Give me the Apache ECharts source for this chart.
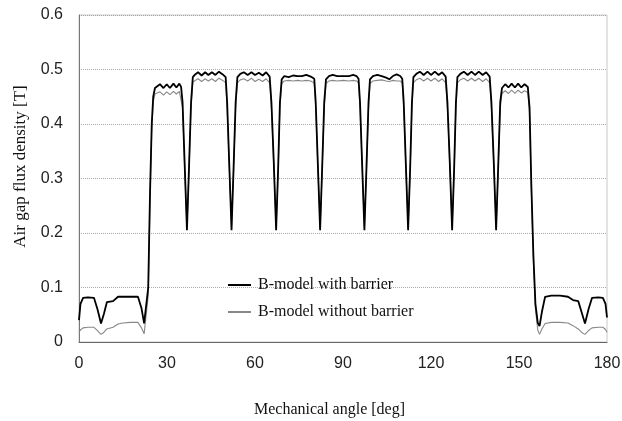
<!DOCTYPE html>
<html><head><meta charset="utf-8">
<script src="https://cdn.jsdelivr.net/npm/echarts@6/dist/echarts.min.js"></script>
<style>html,body{margin:0;padding:0;background:#fff}#c{width:622px;height:421px}</style>
</head><body><div id="c"></div>
<script>
// Mechanical angle [deg], flux density [T]
const withBarrier = [
  [0,0.040],[0.5,0.070],[1.4,0.081],[3.0,0.082],[5.1,0.081],[6.3,0.060],[7.5,0.034],[8.5,0.052],[9.5,0.073],[11.6,0.075],[13.3,0.083],[15.0,0.083],[17.5,0.083],[20.1,0.083],[21.3,0.062],[22.2,0.034],[22.7,0.031],
  [23.6,0.100],[24.2,0.270],[24.8,0.400],[25.3,0.450],
  [25.9,0.466],[27.6,0.473],[28.8,0.466],[29.9,0.473],[31.0,0.466],[32.2,0.474],[33.2,0.467],[34.2,0.474],[34.8,0.468],
  [35.3,0.440],[36.0,0.330],[36.8,0.205],[37.5,0.320],[38.2,0.440],
  [38.8,0.486],[39.6,0.491],[40.6,0.495],[41.8,0.489],[43.0,0.495],[44.1,0.490],[45.3,0.495],[46.5,0.490],[47.7,0.496],[49.0,0.491],[50.0,0.486],
  [50.5,0.440],[51.2,0.330],[52.0,0.205],[52.7,0.320],[53.4,0.440],
  [54.0,0.486],[55.0,0.492],[56.2,0.495],[57.5,0.490],[58.8,0.495],[60.0,0.490],[61.3,0.494],[62.6,0.489],[63.8,0.495],[65.0,0.487],
  [65.6,0.440],[66.4,0.330],[67.2,0.205],[67.9,0.320],[68.5,0.440],
  [69.1,0.482],[70.0,0.488],[71.5,0.486],[73.0,0.489],[74.5,0.488],[76.0,0.488],[77.5,0.490],[79.0,0.487],[80.2,0.483],
  [80.7,0.440],[81.4,0.330],[82.2,0.205],[82.9,0.320],[83.6,0.440],
  [84.2,0.482],[85.2,0.488],[86.5,0.490],[88.0,0.488],[90.0,0.488],[92.0,0.488],[93.5,0.490],[94.6,0.488],[95.3,0.483],
  [95.8,0.440],[96.5,0.330],[97.3,0.205],[98.0,0.320],[98.7,0.440],
  [99.2,0.482],[100.2,0.488],[101.7,0.490],[103.2,0.488],[104.7,0.485],[105.8,0.482],[107.0,0.488],[108.3,0.491],[109.5,0.488],[110.2,0.483],
  [110.7,0.440],[111.4,0.330],[112.2,0.205],[112.9,0.320],[113.5,0.440],
  [114.0,0.486],[115.0,0.492],[116.2,0.496],[117.5,0.490],[118.8,0.496],[120.0,0.490],[121.3,0.496],[122.6,0.490],[123.8,0.495],[125.0,0.487],
  [125.6,0.440],[126.4,0.330],[127.2,0.205],[127.9,0.320],[128.5,0.440],
  [129.0,0.486],[130.0,0.492],[131.2,0.496],[132.5,0.490],[133.8,0.496],[135.0,0.490],[136.3,0.496],[137.6,0.490],[138.8,0.495],[140.0,0.487],
  [140.6,0.440],[141.4,0.330],[142.2,0.205],[142.9,0.320],[143.6,0.440],
  [144.2,0.466],[145.3,0.473],[146.4,0.467],[147.5,0.474],[148.6,0.467],[149.7,0.474],[150.8,0.467],[151.9,0.473],[153.0,0.468],
  [153.6,0.430],[154.2,0.290],[154.9,0.160],[155.6,0.070],[156.4,0.035],[157.0,0.029],[157.8,0.055],[158.9,0.083],
  [161.0,0.085],[164.0,0.085],[166.7,0.083],[168.4,0.077],[170.2,0.075],[171.5,0.052],[172.5,0.034],[173.7,0.060],[174.9,0.081],[177.0,0.082],[178.6,0.081],[179.5,0.070],[180.0,0.045]
];
const withoutBarrier = [
  [0,0.018],[0.5,0.022],[1.4,0.026],[3.0,0.027],[5.1,0.027],[6.3,0.021],[7.5,0.014],[8.5,0.018],[9.5,0.024],[11.6,0.027],[13.3,0.033],[15.0,0.035],[17.5,0.036],[20.1,0.036],[21.3,0.026],[22.2,0.015],[22.7,0.013],
  [23.6,0.085],[24.2,0.260],[24.8,0.390],[25.3,0.440],
  [25.9,0.455],[27.6,0.459],[28.8,0.453],[29.9,0.459],[31.0,0.454],[32.2,0.460],[33.2,0.455],[34.2,0.460],[34.8,0.457],
  [35.3,0.430],[36.0,0.325],[36.8,0.210],[37.5,0.315],[38.2,0.430],
  [38.8,0.476],[39.6,0.480],[40.6,0.483],[41.8,0.478],[43.0,0.483],[44.1,0.479],[45.3,0.483],[46.5,0.478],[47.7,0.484],[49.0,0.480],[50.0,0.476],
  [50.5,0.430],[51.2,0.325],[52.0,0.210],[52.7,0.315],[53.4,0.430],
  [54.0,0.476],[55.0,0.481],[56.2,0.483],[57.5,0.479],[58.8,0.484],[60.0,0.478],[61.3,0.482],[62.6,0.478],[63.8,0.483],[65.0,0.476],
  [65.6,0.430],[66.4,0.325],[67.2,0.210],[67.9,0.315],[68.5,0.430],
  [69.1,0.474],[70.0,0.479],[71.5,0.480],[73.0,0.479],[74.5,0.480],[76.0,0.479],[77.5,0.480],[79.0,0.479],[80.2,0.475],
  [80.7,0.430],[81.4,0.325],[82.2,0.210],[82.9,0.315],[83.6,0.430],
  [84.2,0.474],[85.2,0.479],[86.5,0.480],[88.0,0.479],[90.0,0.480],[92.0,0.479],[93.5,0.480],[94.6,0.479],[95.3,0.475],
  [95.8,0.430],[96.5,0.325],[97.3,0.210],[98.0,0.315],[98.7,0.430],
  [99.2,0.474],[100.2,0.479],[101.7,0.480],[103.2,0.481],[104.7,0.479],[105.8,0.478],[107.0,0.480],[108.3,0.479],[109.5,0.479],[110.2,0.475],
  [110.7,0.430],[111.4,0.325],[112.2,0.210],[112.9,0.315],[113.5,0.430],
  [114.0,0.476],[115.0,0.481],[116.2,0.484],[117.5,0.479],[118.8,0.484],[120.0,0.479],[121.3,0.484],[122.6,0.478],[123.8,0.483],[125.0,0.476],
  [125.6,0.430],[126.4,0.325],[127.2,0.210],[127.9,0.315],[128.5,0.430],
  [129.0,0.476],[130.0,0.481],[131.2,0.484],[132.5,0.479],[133.8,0.484],[135.0,0.479],[136.3,0.484],[137.6,0.478],[138.8,0.483],[140.0,0.476],
  [140.6,0.430],[141.4,0.325],[142.2,0.210],[142.9,0.315],[143.6,0.430],
  [144.2,0.456],[145.3,0.461],[146.4,0.456],[147.5,0.462],[148.6,0.456],[149.7,0.462],[150.8,0.457],[151.9,0.461],[153.0,0.458],
  [153.6,0.420],[154.2,0.280],[154.9,0.150],[155.6,0.060],[156.4,0.022],[157.0,0.014],[157.8,0.024],[158.9,0.034],
  [161.0,0.036],[164.0,0.036],[166.7,0.035],[168.4,0.030],[170.2,0.024],[171.5,0.017],[172.5,0.014],[173.7,0.021],[174.9,0.026],[177.0,0.027],[178.6,0.027],[179.5,0.023],[180.0,0.018]
];
const seriesNames = ['B-model with barrier', 'B-model without barrier'];
const xTickRange = [0, 180, 30];
const yTickRange = [0, 0.6, 0.1];

const sans = 'Liberation Sans, Arial, sans-serif';
const serif = 'Liberation Serif, Times New Roman, serif';
const chart = echarts.init(document.getElementById('c'), null, {renderer: 'canvas'});
chart.setOption({
  animation: false,
  backgroundColor: '#fff',
  grid: {left: 79, right: 15, top: 15, bottom: 79, outerBoundsMode: 'none', containLabel: false,
         show: true, borderColor: '#c8c8c8', borderWidth: 1},
  legend: {
    orient: 'vertical', left: 222, top: 272, itemWidth: 23, itemHeight: 14, itemGap: 11,
    itemStyle: {opacity: 0},
    textStyle: {fontFamily: serif, fontSize: 16, color: '#111', padding: [0, 0, 0, 2]},
    data: seriesNames
  },
  xAxis: {
    type: 'value', min: xTickRange[0], max: xTickRange[1], interval: xTickRange[2],
    name: 'Mechanical angle [deg]', nameLocation: 'middle', nameGap: 60,
    nameTextStyle: {fontFamily: serif, fontSize: 16, color: '#111', padding: [0, 27, 0, 0]},
    axisLine: {lineStyle: {color: '#666', width: 1}},
    axisTick: {show: false},
    axisLabel: {fontFamily: sans, fontSize: 16, color: '#222', margin: 14},
    splitLine: {show: false}
  },
  yAxis: {
    type: 'value', min: yTickRange[0], max: yTickRange[1], interval: yTickRange[2],
    name: 'Air gap flux density [T]', nameLocation: 'middle', nameGap: 50,
    nameTextStyle: {fontFamily: serif, fontSize: 17, color: '#111', padding: [0, 0, 0, 24]},
    axisLine: {show: true, lineStyle: {color: '#777', width: 1}},
    axisTick: {show: false},
    axisLabel: {fontFamily: sans, fontSize: 16, color: '#222', margin: 16},
    splitLine: {show: true, lineStyle: {type: 'dotted', color: '#aaa', width: 1}}
  },
  series: [
    {name: seriesNames[0], type: 'line', data: withBarrier, symbol: 'none', smooth: false,
     lineStyle: {color: '#000', width: 1.8}, itemStyle: {color: '#000'}, z: 3},
    {name: seriesNames[1], type: 'line', data: withoutBarrier, symbol: 'none', smooth: false,
     lineStyle: {color: '#888', width: 1.1}, itemStyle: {color: '#888'}, z: 2}
  ]
});
</script>
</body></html>
